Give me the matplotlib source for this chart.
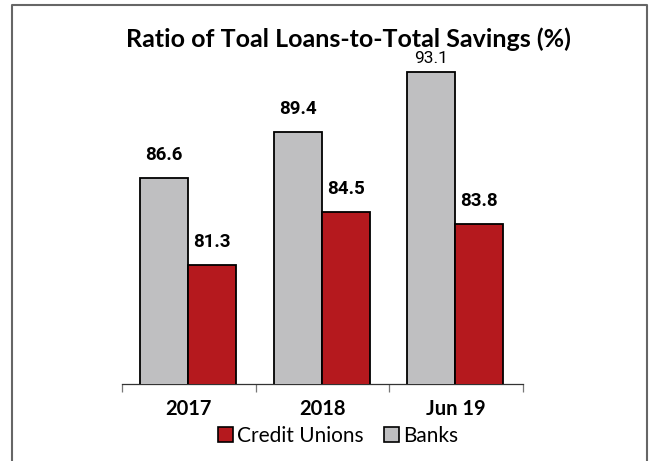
import matplotlib
matplotlib.use("Agg")
import matplotlib.pyplot as plt
from matplotlib.lines import Line2D
from matplotlib.patches import Patch
import numpy as np

categories = ["2017", "2018", "Jun 19"]
banks = [86.6, 89.4, 93.1]
credit_unions = [81.3, 84.5, 83.8]
title = "Ratio of Toal Loans-to-Total Savings (%)"

grey = "#BFBFC1"
red = "#B5191E"

fig = plt.figure(figsize=(6.49, 4.61), dpi=100)
W, H = 649, 461
# axes in pixel coords: x 122..523, y baseline 384, top ~40
ax = fig.add_axes([122 / W, 1 - 384 / H, (523 - 122) / W, (384 - 40) / H])

x = np.arange(len(categories))
bw = 0.36
ax.bar(x - bw / 2 - 0.006, banks, bw, color=grey, edgecolor="black", linewidth=1.3, zorder=3)
ax.bar(x + bw / 2 - 0.006, credit_unions, bw, color=red, edgecolor="black", linewidth=1.3, zorder=3)

ax.set_xlim(-0.5, len(categories) - 0.5)
ax.set_ylim(74, 74 + 344 / 16.36)

for i, v in enumerate(banks):
    last = i == len(banks) - 1
    ax.annotate(f"{v:.1f}", (x[i] - bw / 2 - 0.006, v), xytext=(0, 4 if last else 10),
                textcoords="offset points", ha="center", va="bottom",
                fontsize=12.5 if last else 13.5, family="Roboto",
                fontweight="normal" if last else "bold")
for i, v in enumerate(credit_unions):
    ax.annotate(f"{v:.1f}", (x[i] + bw / 2 - 0.006, v), xytext=(0, 10),
                textcoords="offset points", ha="center", va="bottom",
                fontsize=13.5, family="Roboto", fontweight="bold")

for s in ["left", "right", "top"]:
    ax.spines[s].set_visible(False)
ax.spines["bottom"].set_color("#333333")
ax.spines["bottom"].set_linewidth(0.9)
ax.set_yticks([])
ax.set_xticks(x)
ax.set_xticklabels(categories, fontsize=14.5, fontweight="bold", family="Lato")
ax.tick_params(axis="x", length=0, pad=11)
ax.set_xticks(np.arange(-0.5, len(categories)), minor=True)
ax.tick_params(axis="x", which="minor", length=6, color="#777777", width=0.9)

fig.text(348 / W, 1 - 39.5 / H, title, ha="center", va="center", fontsize=18,
         fontweight="bold", family="Lato")

handles = [Patch(facecolor=red, edgecolor="black", linewidth=1.2),
           Patch(facecolor=grey, edgecolor="black", linewidth=1.2)]
fig.legend(handles, ["Credit Unions", "Banks"], loc="center", bbox_to_anchor=(338 / W, 1 - 436 / H),
           ncol=2, frameon=False, prop={"family": "Lato", "size": 15},
           handlelength=0.7, handleheight=0.7, handletextpad=0.2, columnspacing=1.0)

# figure border (left, top, right)
fig.add_artist(Line2D([11.5 / W, 11.5 / W, 647 / W, 647 / W], [0, 1 - 5.5 / H, 1 - 5.5 / H, 0],
                      transform=fig.transFigure, color="#666666", linewidth=1.5))

fig.savefig("out.png", dpi=100)
